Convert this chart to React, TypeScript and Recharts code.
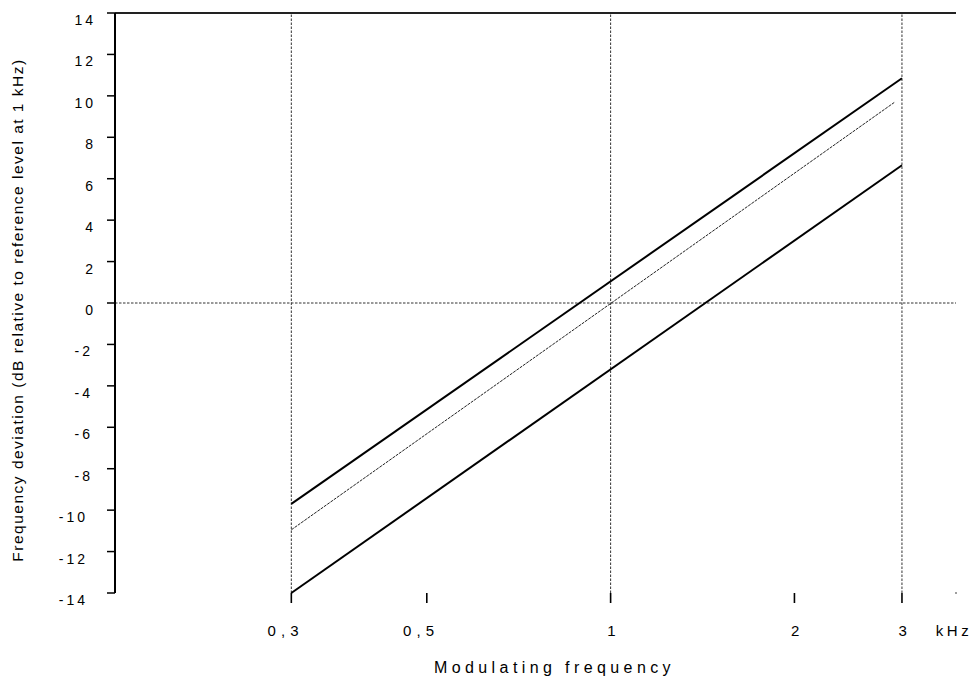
import React from 'react';
import { LineChart, Line, XAxis, YAxis, ReferenceLine, Label } from 'recharts';

// ---- data ----
const xTickValues = [0.3, 0.5, 1, 2, 3, 3.678];
const xTickLabels = ['0 , 3', '0 , 5', '1', '2', '3', 'kHz'];
const xGridValues = [0.3, 1, 3];
const xDomain = [0.1543, 3.678];

const yTickValues = [-14, -12, -10, -8, -6, -4, -2, 0, 2, 4, 6, 8, 10, 12, 14];
const yDomain = [-14, 14];

const upperFreqs = [0.3, 3];
const upperLevels = [-9.7, 10.85];

const nominalFreqs = [0.3, 2.92];
const nominalLevels = [-10.95, 9.7];

const lowerFreqs = [0.3, 3];
const lowerLevels = [-14, 6.65];

const xTitle = 'Modulating frequency';
const yTitle = 'Frequency deviation (dB relative to reference level at 1 kHz)';

const toRows = (fs: number[], vs: number[]) => fs.map((f, i) => ({ f, v: vs[i] }));
const upperData = toRows(upperFreqs, upperLevels);
const nominalData = toRows(nominalFreqs, nominalLevels);
const lowerData = toRows(lowerFreqs, lowerLevels);

const FONT = '"Liberation Sans", Arial, Helvetica, sans-serif';

const XTick = (props: any) => {
  const { x, y, payload, index } = props;
  const label = xTickLabels[index] ?? String(payload.value);
  const isUnit = label === 'kHz';
  const multi = label.length > 1 && !isUnit;
  const dx = isUnit ? -2 : multi ? -8 : 1;
  return (
    <g>
      {isUnit ? (
        <circle cx={x} cy={y} r={0.8} fill="#222" />
      ) : (
        <line x1={x} x2={x} y1={y} y2={y + 10} stroke="#000" strokeWidth={1.6} />
      )}
      <text
        x={x + dx}
        y={y + 43}
        textAnchor="middle"
        fontSize={15}
        fontFamily={FONT}
        letterSpacing={isUnit ? 3.5 : 0.5}
        fill="#000"
      >
        {label}
      </text>
    </g>
  );
};

const YTick = (props: any) => {
  const { x, y, payload } = props;
  const v = payload.value as number;
  const shift = v < 0 ? (Math.abs(v) >= 10 ? 8 : 3) : 0;
  return (
    <text
      x={x - 11 - shift}
      y={y + 12}
      textAnchor="end"
      fontSize={14}
      fontFamily={FONT}
      letterSpacing={3}
      fill="#000"
    >
      {String(v)}
    </text>
  );
};

export default function App() {
  return (
    <div style={{ position: 'absolute', left: 0, top: 0, width: 975, height: 676, background: '#fff' }}>
      <LineChart
        width={975}
        height={676}
        margin={{ top: 13, right: 19, bottom: 0, left: 0 }}
        style={{ fontFamily: FONT }}
      >
        <XAxis
          dataKey="f"
          type="number"
          scale="log"
          domain={xDomain}
          allowDataOverflow
          ticks={xTickValues}
          interval={0}
          axisLine={false}
          tickLine={false}
          tickSize={0}
          tickMargin={0}
          height={83}
          tick={<XTick />}
        >
          <Label
            content={(p: any) => {
              const vb = p.viewBox || {};
              return (
                <text
                  x={vb.x + vb.width / 2 + 19}
                  y={vb.y + 80}
                  textAnchor="middle"
                  fontSize={16}
                  fontFamily={FONT}
                  letterSpacing={4.4}
                  fill="#000"
                >
                  {xTitle}
                </text>
              );
            }}
          />
        </XAxis>
        <YAxis
          type="number"
          domain={yDomain}
          ticks={yTickValues}
          interval={0}
          width={115}
          axisLine={{ stroke: '#000', strokeWidth: 2 }}
          tickLine={{ stroke: '#000', strokeWidth: 1.5 }}
          tickSize={8}
          tickMargin={0}
          tick={<YTick />}
        >
          <Label
            content={(p: any) => {
              const vb = p.viewBox || {};
              const cy = vb.y + vb.height / 2 + 7;
              return (
                <text
                  x={23}
                  y={cy}
                  transform={`rotate(-90, 23, ${cy})`}
                  textAnchor="middle"
                  fontSize={15.5}
                  fontFamily={FONT}
                  letterSpacing={1.5}
                  fill="#000"
                >
                  {yTitle}
                </text>
              );
            }}
          />
        </YAxis>

        <ReferenceLine y={14} stroke="#222" strokeWidth={2} />
        <ReferenceLine y={0} stroke="#333" strokeWidth={1} strokeDasharray="2.5 1.5" />
        {xGridValues.map((g) => (
          <ReferenceLine key={g} x={g} stroke="#333" strokeWidth={1} strokeDasharray="2.5 1.5" />
        ))}

        <Line
          data={upperData}
          dataKey="v"
          stroke="#000"
          strokeWidth={2}
          dot={false}
          isAnimationActive={false}
          type="linear"
        />
        <Line
          data={nominalData}
          dataKey="v"
          stroke="#222"
          strokeWidth={1}
          strokeDasharray="3 1"
          dot={false}
          isAnimationActive={false}
          type="linear"
        />
        <Line
          data={lowerData}
          dataKey="v"
          stroke="#000"
          strokeWidth={2}
          dot={false}
          isAnimationActive={false}
          type="linear"
        />
      </LineChart>
    </div>
  );
}
